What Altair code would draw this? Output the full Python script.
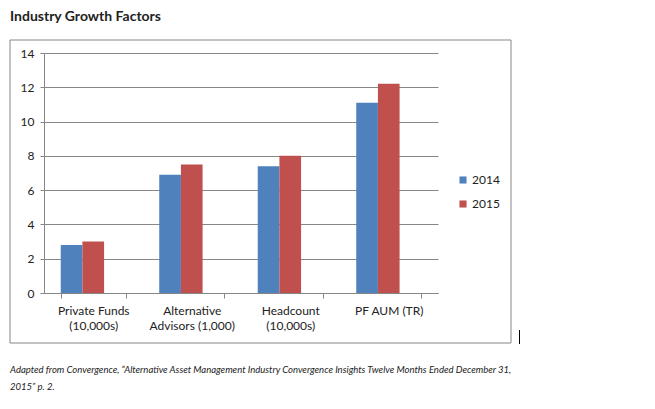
import altair as alt
import pandas as pd

categories = ["Private Funds\n(10,000s)", "Alternative\nAdvisors (1,000)", "Headcount\n(10,000s)", "PF AUM (TR)"]
years = ["2014", "2015"]
values_2014 = [2.8, 6.9, 7.4, 11.1]
values_2015 = [3.0, 7.5, 8.0, 12.2]
colors = ["#4F81BD", "#C0504D"]
title_text = "Industry Growth Factors"
caption_lines = [
    "Adapted from Convergence, \u201cAlternative Asset Management Industry Convergence Insights Twelve Months Ended December 31,",
    "2015\u201d p. 2.",
]

rows = []
for c, a, b in zip(categories, values_2014, values_2015):
    rows.append({"category": c, "year": years[0], "value": a})
    rows.append({"category": c, "year": years[1], "value": b})
df = pd.DataFrame(rows)

FONT = "Lato"
W, H = 394, 240

bars = alt.Chart(df).mark_bar().encode(
    x=alt.X("category:N", sort=categories, title=None,
            scale=alt.Scale(paddingInner=0.34, paddingOuter=0.17),
            axis=alt.Axis(labelAngle=0, labelExpr="split(datum.label, '\\n')",
                          tickBand="extent", tickSize=5, labelPadding=7,
                          labelFontSize=12, labelLineHeight=15, labelColor="#222",
                          domainColor="#868686", tickColor="#868686", labelFont=FONT,
                          grid=False)),
    # third, empty slot mirrors the reference's off-centre bar groups
    xOffset=alt.XOffset("year:N", scale=alt.Scale(domain=years + [" "], paddingInner=0, paddingOuter=0)),
    y=alt.Y("value:Q", title=None,
            scale=alt.Scale(domain=[0, 14], nice=False),
            axis=alt.Axis(values=[0, 2, 4, 6, 8, 10, 12, 14], tickSize=4, labelPadding=6,
                          labelFontSize=12, labelColor="#222", labelFont=FONT,
                          domainColor="#868686", tickColor="#868686",
                          gridColor="#868686", gridWidth=1)),
    color=alt.Color("year:N", sort=years, scale=alt.Scale(domain=years, range=colors),
                    legend=alt.Legend(title=None, orient="none", legendX=413, legendY=121,
                                      symbolType="square", symbolSize=50, symbolStrokeWidth=0,
                                      labelOffset=3,
                                      labelFontSize=12, labelFont=FONT, labelColor="#222",
                                      rowPadding=12)),
)

frame = alt.Chart(pd.DataFrame({"a": [0]})).mark_rect(
    fill=None, stroke="#868686", strokeWidth=1
).encode(
    x=alt.value(-34), x2=alt.value(467), y=alt.value(-13), y2=alt.value(290)
)

cursor = alt.Chart(pd.DataFrame({"a": [0]})).mark_rule(color="#000", strokeWidth=1).encode(
    x=alt.value(475.5), y=alt.value(277), y2=alt.value(291)
)

caption = alt.Chart(pd.DataFrame({"a": [0]})).mark_text(
    align="left", baseline="alphabetic", font=FONT, fontSize=9.5, fontStyle="italic",
    color="#222", lineHeight=17
).encode(
    x=alt.value(-34), y=alt.value(320), text=alt.value(caption_lines)
)

chart = alt.layer(frame, bars, cursor, caption).properties(
    width=W, height=H,
    title=alt.TitleParams(title_text, anchor="start", frame="group", dx=-34, font=FONT, fontSize=14,
                          fontWeight="bold", color="#222", offset=16),
    padding={"left": 36, "top": 45, "right": 200, "bottom": 100},
    autosize=alt.AutoSizeParams(type="none"),
).configure_view(stroke=None)

chart.save("out.html", embed_options={"renderer": "svg", "actions": False})
